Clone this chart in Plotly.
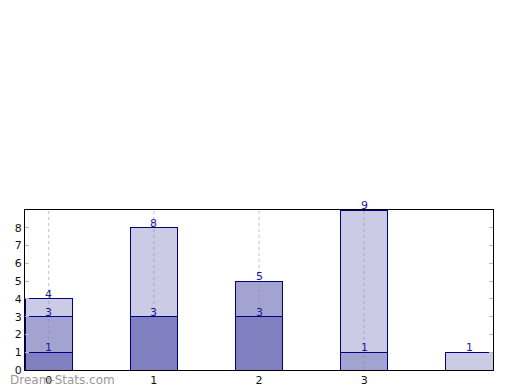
import plotly.graph_objects as go
import numpy as np

categories = [0, 1, 2, 3, 4]
series_a = [1, 3, 3, 0, 0]
series_b = [2, 0, 2, 1, 0]
series_c = [1, 5, 0, 8, 1]
x_tick_vals = [0, 1, 2, 3]
x_tick_labels = ["0", "1", "2", "3"]
y_ticks = [0, 1, 2, 3, 4, 5, 6, 7, 8]

colors = ["#8080c0", "#a3a3d1", "#cbcbe5"]
series = [series_a, series_b, series_c]

fig = go.Figure()
for vals, col in zip(series, colors):
    fig.add_trace(go.Bar(x=categories, y=vals, width=0.45,
                         marker=dict(color=col, line=dict(color="#000080", width=1)),
                         showlegend=False, hoverinfo="skip"))

# dotted vertical grid lines drawn above the bars
for xv in x_tick_vals:
    fig.add_shape(type="line", xref="x", yref="paper", x0=xv, x1=xv, y0=0, y1=1,
                  line=dict(color="rgba(140,140,140,0.45)", width=1.2, dash="dot"), layer="above")

cum = np.cumsum(np.array(series), axis=0)
for i, vals in enumerate(series):
    for j, v in enumerate(vals):
        if v > 0:
            top = int(cum[i][j])
            fig.add_annotation(x=categories[j], y=top, text=str(top), showarrow=False,
                               xanchor="center", yanchor="bottom", yshift=-4,
                               font=dict(color="#1a1a9a", size=11, family="DejaVu Sans"))

fig.update_layout(
    barmode="stack",
    width=520, height=390,
    margin=dict(l=17, r=35, t=202, b=28, autoexpand=False),
    plot_bgcolor="white", paper_bgcolor="white",
    font=dict(family="DejaVu Sans", size=11, color="#111"),
    xaxis=dict(range=[-0.225, 4.225], tickvals=x_tick_vals, ticktext=x_tick_labels,
               showgrid=False, automargin=False,
               showline=True, linecolor="black", linewidth=1, mirror=True, ticks="", zeroline=False,
               tickfont=dict(size=11)),
    yaxis=dict(range=[0, 9], tickvals=y_ticks, showgrid=False, showline=True, linecolor="black", linewidth=1,
               mirror="ticks", ticks="inside", ticklen=4, tickcolor="#bbbbbb", zeroline=False,
               automargin=False, tickfont=dict(size=11)),
)
fig.add_annotation(text="Dream-Stats.com", xref="paper", yref="paper", x=0, y=0,
                   xanchor="left", yanchor="top", xshift=-17, yshift=-1, showarrow=False,
                   font=dict(family="DejaVu Sans", size=12, color="#999999"))
fig.write_html("out.html")
